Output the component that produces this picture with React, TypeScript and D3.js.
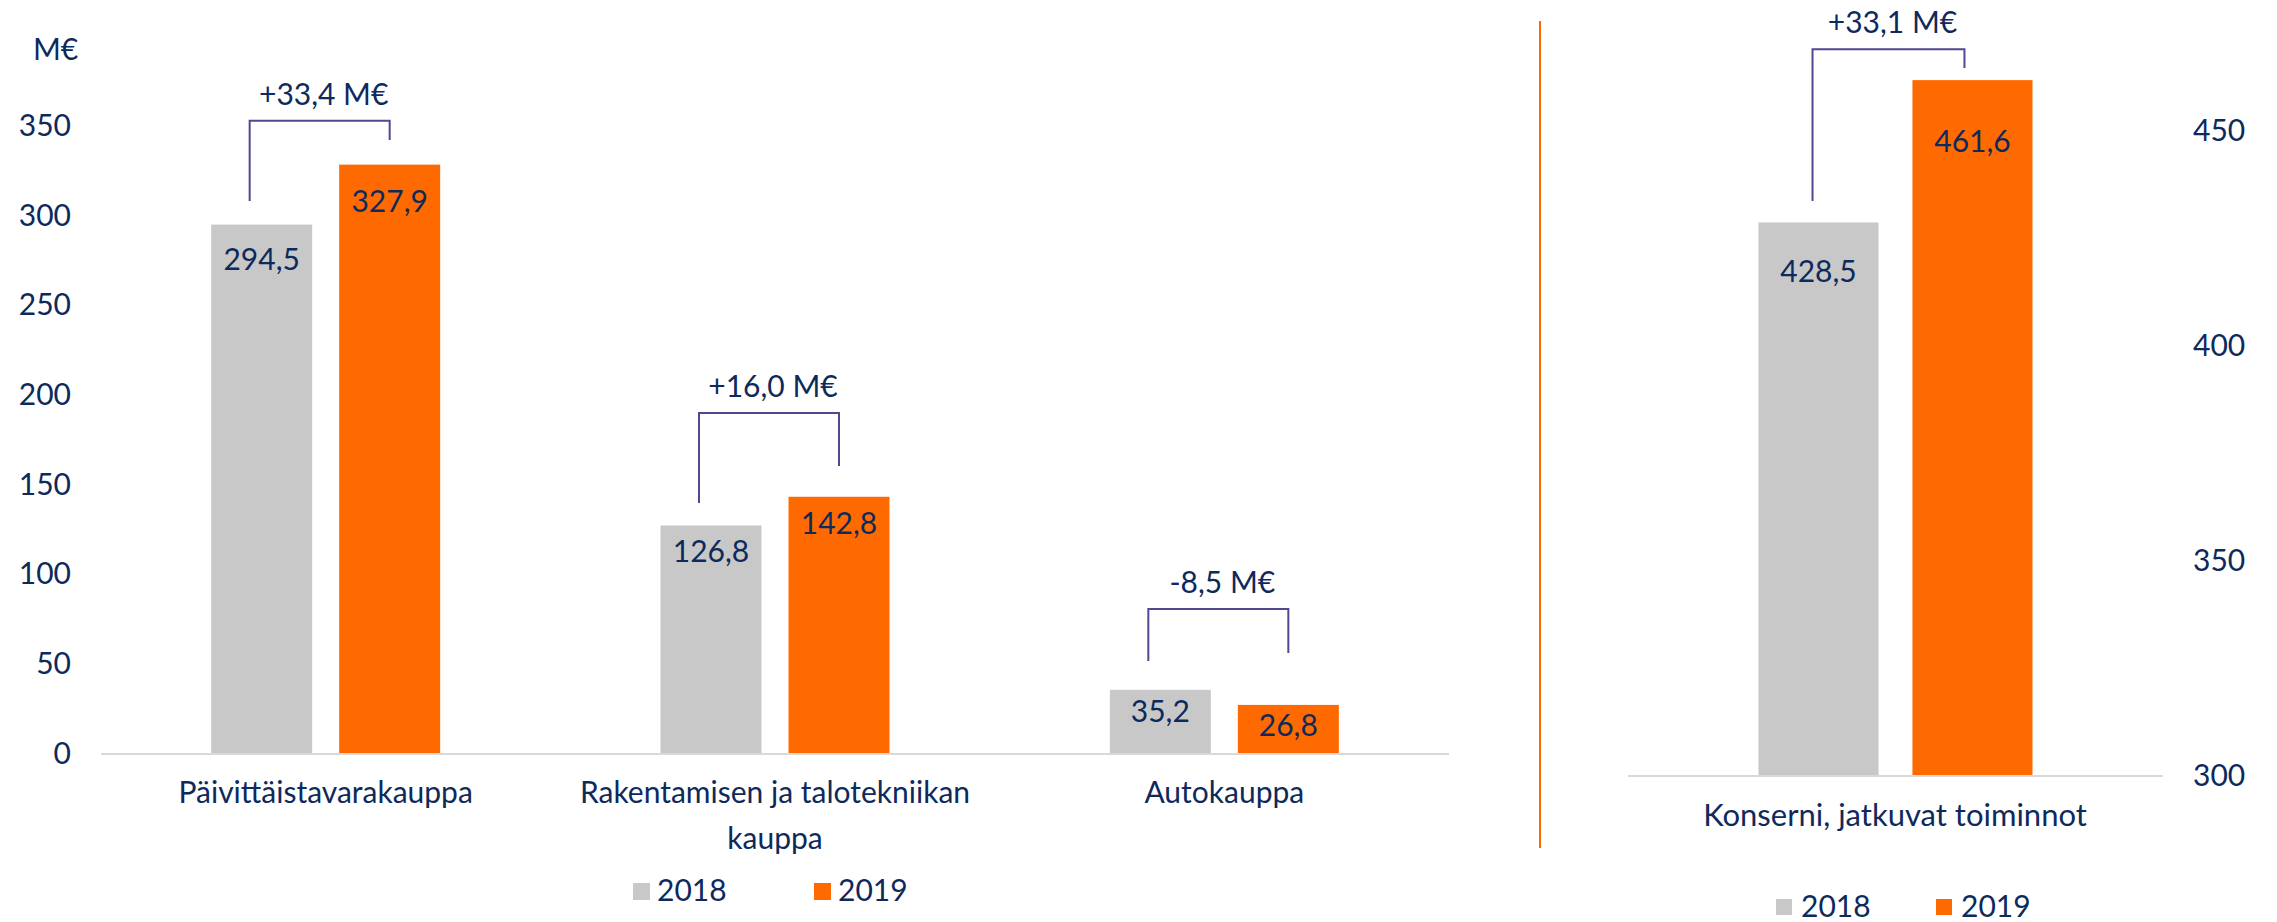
import React from 'react';
import * as d3 from 'd3';

const years = ['2018', '2019'];
const categories = ['Päivittäistavarakauppa', 'Rakentamisen ja talotekniikan|kauppa', 'Autokauppa'];
const values2018 = [294.5, 126.8, 35.2];
const values2019 = [327.9, 142.8, 26.8];
const changes = ['+33,4 M€', '+16,0 M€', '-8,5 M€'];
// bracket levels in M€: top, left leg end, right leg end
const bracketTop = [352.3, 189.5, 80.3];
const bracketLeft = [307.7, 139.4, 51.3];
const bracketRight = [341.7, 160, 55.7];
const leftTicks = [0, 50, 100, 150, 200, 250, 300, 350];

const groupCategory = 'Konserni, jatkuvat toiminnot';
const group2018 = 428.5;
const group2019 = 461.6;
const groupChange = '+33,1 M€';
const groupBracket = [468.8, 433.5, 464.4];
const rightTicks = [300, 350, 400, 450];

const navy = '#0e2a5c';
const grey = '#c8c8c8';
const orange = '#ff6a00';
const bracketColor = '#54468f';
const font = 'Lato, "Open Sans", sans-serif';

const fmt = (v: number) => v.toFixed(1).replace('.', ',');

function App() {
  const width = 2277;
  const height = 922;

  // left panel
  const yLeft = d3.scaleLinear().domain([0, 350]).range([753, 125]);
  const xLeft = d3.scaleBand().domain(categories).range([101, 1449]);
  const leftGroupW = 229;
  const xLeftInner = d3.scaleBand().domain(years).range([0, leftGroupW]).paddingInner(0.211);
  const leftGroupX = (c: string) => (xLeft(c) as number) + (xLeft.bandwidth() - leftGroupW) / 2;

  // right panel
  const yRight = d3.scaleLinear().domain([300, 450]).range([775, 130]);
  const xRight = d3.scaleBand().domain([groupCategory]).range([1628, 2163]);
  const rightGroupW = 274;
  const xRightInner = d3.scaleBand().domain(years).range([0, rightGroupW]).paddingInner(0.22);
  const rightGroupX = (xRight(groupCategory) as number) + (xRight.bandwidth() - rightGroupW) / 2;

  const bracket = (
    key: string,
    x1: number,
    x2: number,
    top: number,
    l: number,
    r: number,
    label: string
  ) => (
    <g key={key}>
      <path
        d={`M${x1},${l} V${top} H${x2} V${r}`}
        fill="none"
        stroke={bracketColor}
        strokeWidth={2}
      />
      <text x={(x1 + x2) / 2 + 4} y={top - 16} textAnchor="middle" fontSize={30} fill={navy}>
        {label}
      </text>
    </g>
  );

  return (
    <svg
      width={width}
      height={height}
      style={{ position: 'absolute', left: 0, top: 0, background: '#fff' }}
      fontFamily={font}
    >
      {/* left y axis */}
      <text x={33} y={60} fontSize={30} fill={navy}>
        M€
      </text>
      {leftTicks.map((t) => (
        <text key={t} x={71} y={yLeft(t)} dy="0.36em" textAnchor="end" fontSize={30} fill={navy}>
          {t}
        </text>
      ))}

      {categories.map((c, i) => {
        const gx = leftGroupX(c);
        const vals = [values2018[i], values2019[i]];
        const centers = years.map(
          (y) => gx + (xLeftInner(y) as number) + xLeftInner.bandwidth() / 2
        );
        return (
          <g key={c}>
            {years.map((y, j) => {
              const top = yLeft(vals[j]);
              const h = yLeft(0) - top;
              return (
                <g key={y}>
                  <rect
                    x={gx + (xLeftInner(y) as number)}
                    y={top}
                    width={xLeftInner.bandwidth()}
                    height={h}
                    fill={j === 0 ? grey : orange}
                  />
                  <text
                    x={centers[j]}
                    y={top + 30 + h * 0.03}
                    textAnchor="middle"
                    fontSize={30}
                    fill={navy}
                  >
                    {fmt(vals[j])}
                  </text>
                </g>
              );
            })}
            {bracket(
              'b' + i,
              centers[0] - 12,
              centers[1],
              yLeft(bracketTop[i]),
              yLeft(bracketLeft[i]),
              yLeft(bracketRight[i]),
              changes[i]
            )}
            {c.split('|').map((line, k) => (
              <text
                key={k}
                x={(xLeft(c) as number) + xLeft.bandwidth() / 2}
                y={803 + k * 46}
                textAnchor="middle"
                fontSize={30}
                fill={navy}
              >
                {line}
              </text>
            ))}
          </g>
        );
      })}
      <line x1={101} x2={1449} y1={yLeft(0) + 1} y2={yLeft(0) + 1} stroke="#d9d9d9" strokeWidth={2} />

      {/* left legend */}
      {years.map((y, j) => (
        <g key={y} transform={`translate(${633 + j * 181},883)`}>
          <rect width={17} height={17} fill={j === 0 ? grey : orange} />
          <text x={24} y={18} fontSize={30} fill={navy}>
            {y}
          </text>
        </g>
      ))}

      {/* divider */}
      <line x1={1540} x2={1540} y1={21} y2={848} stroke={orange} strokeWidth={2} />

      {/* right panel */}
      {(() => {
        const vals = [group2018, group2019];
        const centers = years.map(
          (y) => rightGroupX + (xRightInner(y) as number) + xRightInner.bandwidth() / 2
        );
        return (
          <g>
            {years.map((y, j) => {
              const top = yRight(vals[j]);
              return (
                <g key={y}>
                  <rect
                    x={rightGroupX + (xRightInner(y) as number)}
                    y={top}
                    width={xRightInner.bandwidth()}
                    height={yRight(300) - top}
                    fill={j === 0 ? grey : orange}
                  />
                  <text
                    x={centers[j]}
                    y={top + 60 + j * 12}
                    textAnchor="middle"
                    fontSize={30}
                    fill={navy}
                  >
                    {fmt(vals[j])}
                  </text>
                </g>
              );
            })}
            {bracket(
              'br',
              centers[0] - 6,
              centers[1] - 8,
              yRight(groupBracket[0]),
              yRight(groupBracket[1]),
              yRight(groupBracket[2]),
              groupChange
            )}
          </g>
        );
      })()}
      <line x1={1628} x2={2163} y1={yRight(300) + 1} y2={yRight(300) + 1} stroke="#d9d9d9" strokeWidth={2} />
      {rightTicks.map((t) => (
        <text key={t} x={2193} y={yRight(t)} dy="0.36em" fontSize={30} fill={navy}>
          {t}
        </text>
      ))}
      <text x={1895} y={826} textAnchor="middle" fontSize={31} fill={navy}>
        {groupCategory}
      </text>
      {years.map((y, j) => (
        <g key={y} transform={`translate(${1776 + j * 160},899)`}>
          <rect width={16} height={16} fill={j === 0 ? grey : orange} />
          <text x={25} y={18} fontSize={30} fill={navy}>
            {y}
          </text>
        </g>
      ))}
    </svg>
  );
}

export default App;
